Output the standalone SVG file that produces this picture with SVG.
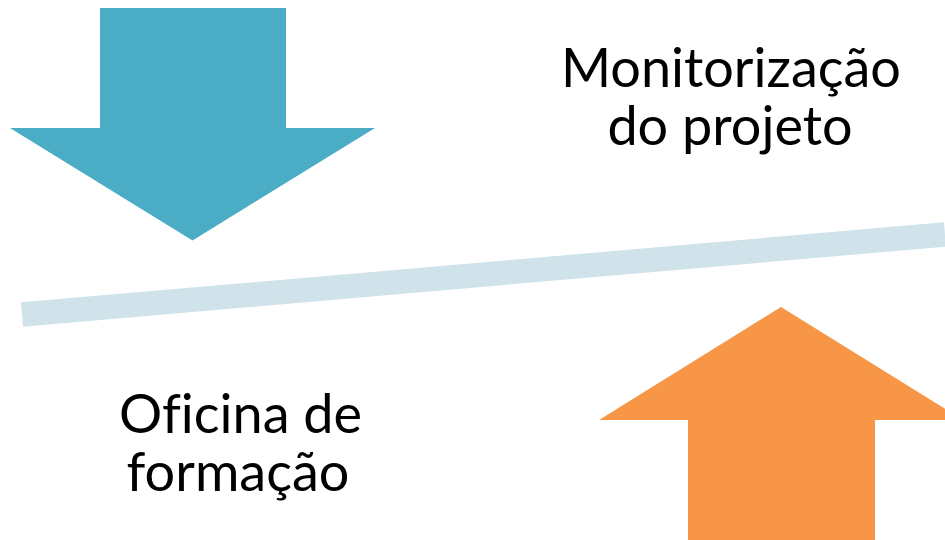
<svg xmlns="http://www.w3.org/2000/svg" width="945" height="540" viewBox="0 0 945 540">
<style>
.lbl{font-family:Lato,"Liberation Sans",sans-serif;font-size:54px;fill:#000;text-anchor:middle;font-variant-ligatures:none;font-feature-settings:"liga" 0}
</style>
<rect width="945" height="540" fill="#fff"/>
<g id="connectors">
<line x1="22" y1="314.5" x2="945" y2="234.5" stroke="#D0E3EA" stroke-width="24.4"/>
</g>
<g id="arrow-down">
<polygon points="100,8 286,8 286,128 375,128 192.5,240.5 10,128 100,128" fill="#4BACC6"/>
</g>
<g id="arrow-up">
<polygon points="781,307 963,420 875,420 875,540 688,540 688,420 599,420" fill="#F79646"/>
</g>
<g id="label-monitorizacao">
<text class="lbl"><tspan x="731" y="87">Monitorização</tspan><tspan x="730" y="145">do projeto</tspan></text>
</g>
<g id="label-oficina">
<text class="lbl"><tspan x="240.5" y="433">Oficina de</tspan><tspan x="238" y="491">formação</tspan></text>
</g>
</svg>
